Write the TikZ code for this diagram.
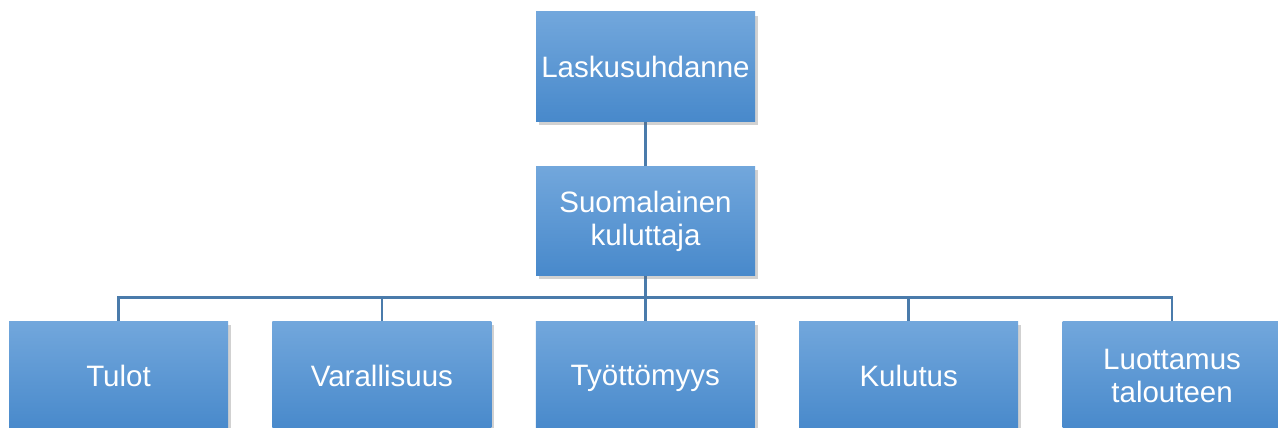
\documentclass[tikz,border=0pt]{standalone}
\usepackage{fontspec}
\setmainfont{Liberation Sans}
\usetikzlibrary{positioning,shadows,backgrounds}

\definecolor{boxtop}{HTML}{72A7DC}
\definecolor{boxbot}{HTML}{4889CB}
\definecolor{linkcol}{HTML}{4A7BAB}

\tikzset{
  orgbox/.style={rectangle, minimum width=219pt, minimum height=109pt,
    inner sep=2pt, align=center, text=white, top color=boxtop, bottom color=boxbot,
    font=\fontsize{29.5}{33}\selectfont,
    drop shadow={shadow xshift=3pt, shadow yshift=-4pt, opacity=0.3, fill=black!60}},
  oneline/.style={orgbox, text depth=0pt},
  link/.style={draw=linkcol, line width=2.5pt}
}

\begin{document}
\begin{tikzpicture}[x=1pt, y=-1pt]
  \useasboundingbox (0,0) rectangle (1278,428);
  \clip (0,0) rectangle (1278,428);

  % top levels
  \node[oneline] (lasku) at (645.5,66.5) {Laskusuhdanne};
  \node[orgbox, below=45pt of lasku] (kuluttaja) {Suomalainen\\kuluttaja};

  % bottom row
  \node[oneline] (tulot) at (118.5,375.5) {Tulot};
  \node[oneline, right=44pt of tulot] (varat) {Varallisuus};
  \node[oneline, right=44pt of varat] (tyott) {Työttömyys};
  \node[oneline, right=44pt of tyott] (kulutus) {Kulutus};
  \node[orgbox, right=44pt of kulutus] (luott) {Luottamus\\talouteen};

  % connectors
  \begin{scope}[on background layer]
    \draw[link] (lasku.south) -- (kuluttaja.north);
    \foreach \b in {tulot,varat,tyott,kulutus,luott}
      \draw[link] (kuluttaja.south) -- ++(0,-22pt) -| (\b.north);
  \end{scope}
\end{tikzpicture}
\end{document}
